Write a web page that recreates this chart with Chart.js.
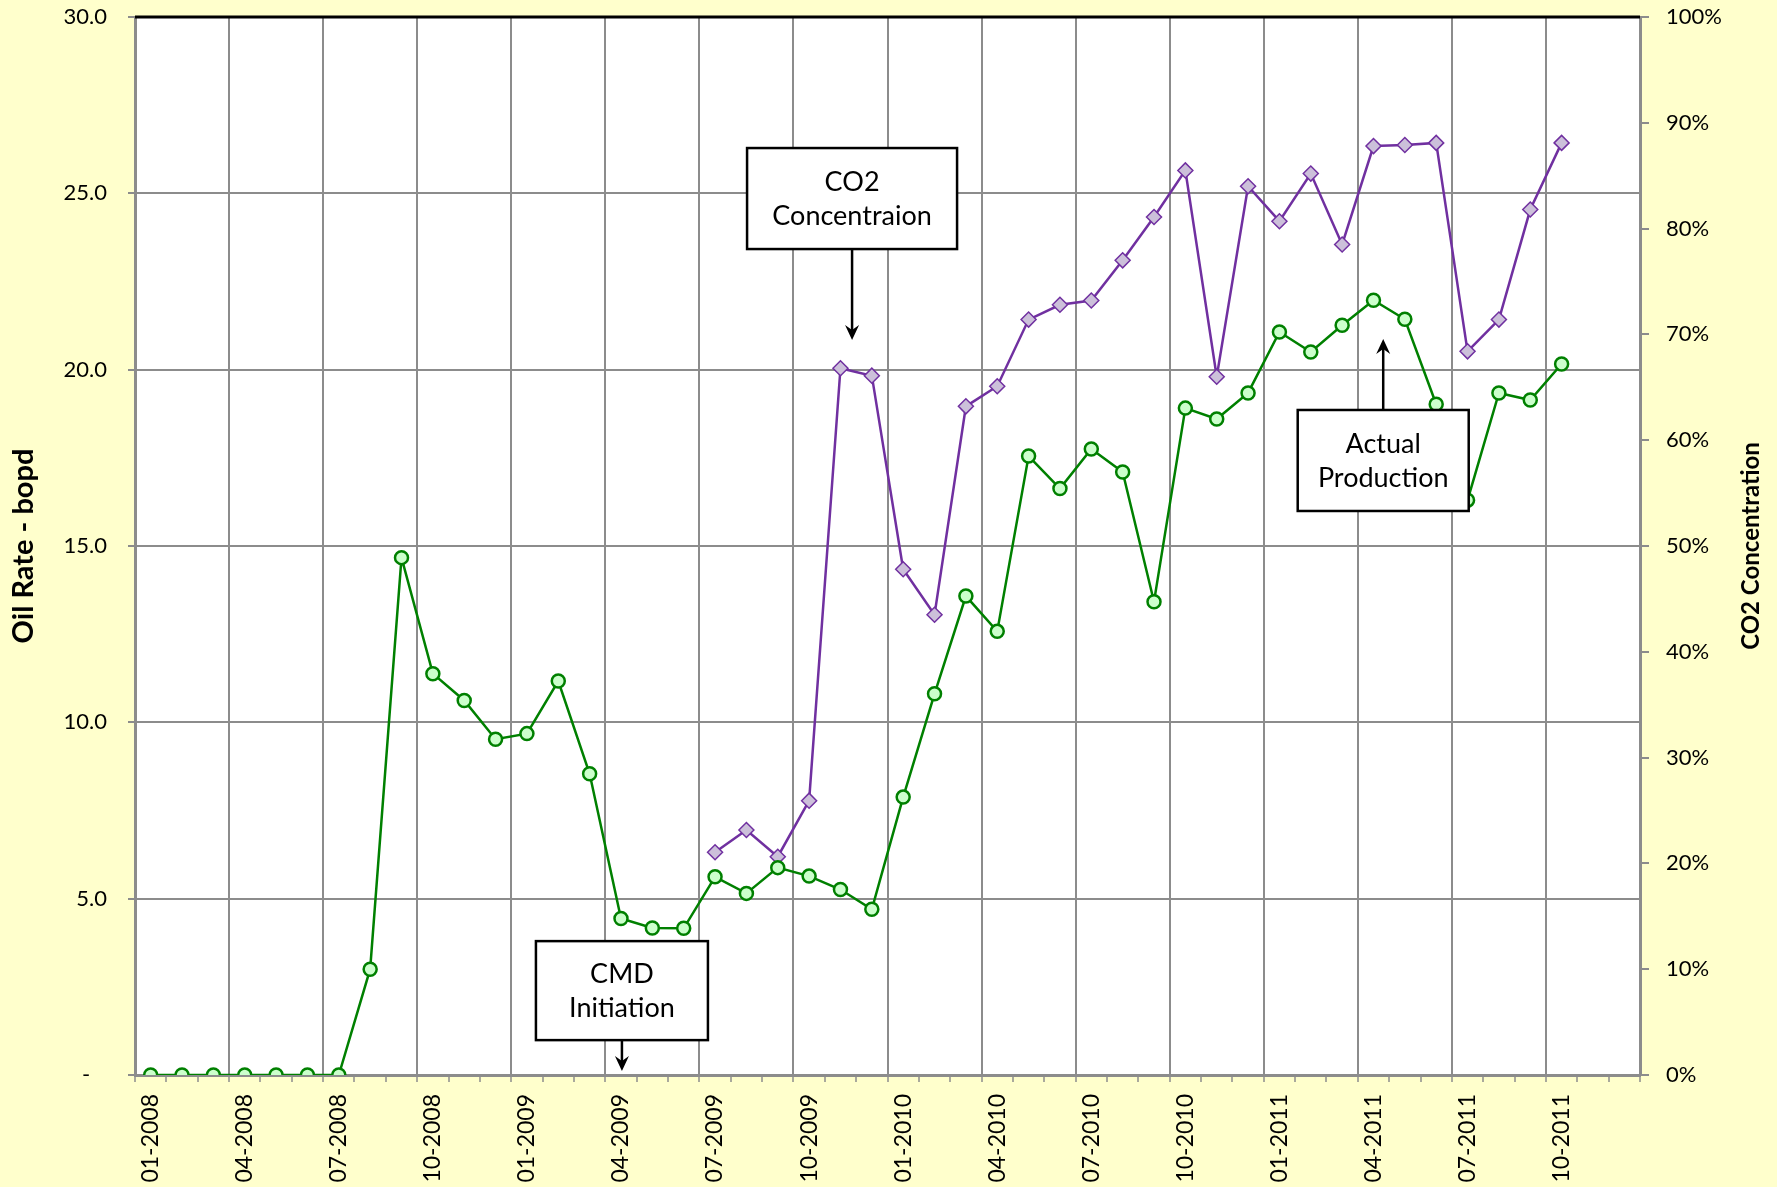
<!DOCTYPE html>
<html>
<head>
<meta charset="utf-8">
<script src="https://cdn.jsdelivr.net/npm/chart.js@4.4.1/dist/chart.umd.min.js"></script>
<style>
  html, body { margin: 0; padding: 0; background: #FFFFCC; }
  #wrap { width: 1777px; height: 1187px; position: relative; }
</style>
</head>
<body>
<div id="wrap"><canvas id="oilChart"></canvas></div>
<script>
// ---------- data ----------
const months = [
    "01-2008", "02-2008", "03-2008", "04-2008", "05-2008", "06-2008", "07-2008", "08-2008", "09-2008", "10-2008", "11-2008", "12-2008",
    "01-2009", "02-2009", "03-2009", "04-2009", "05-2009", "06-2009", "07-2009", "08-2009", "09-2009", "10-2009", "11-2009", "12-2009",
    "01-2010", "02-2010", "03-2010", "04-2010", "05-2010", "06-2010", "07-2010", "08-2010", "09-2010", "10-2010", "11-2010", "12-2010",
    "01-2011", "02-2011", "03-2011", "04-2011", "05-2011", "06-2011", "07-2011", "08-2011", "09-2011", "10-2011", "11-2011", "12-2011"
];

// oil rate, bopd (left axis)
const oilRate = [
    0, 0, 0, 0, 0, 0, 0, 3.0, 14.67, 11.38, 10.62, 9.52,
    9.68, 11.17, 8.54, 4.44, 4.17, 4.16, 5.62, 5.15, 5.88, 5.64, 5.26, 4.70,
    7.88, 10.81, 13.58, 12.58, 17.55, 16.63, 17.75, 17.1, 13.42, 18.91, 18.6, 19.34,
    21.07, 20.5, 21.26, 21.97, 21.43, 19.02, 16.3, 19.34, 19.14, 20.16, null, null
];

// CO2 concentration, % (right axis)
const co2Pct = [
    null, null, null, null, null, null, null, null, null, null, null, null,
    null, null, null, null, null, null, 21.05, 23.16, 20.63, 25.93, 66.8, 66.1,
    47.8, 43.5, 63.2, 65.1, 71.4, 72.8, 73.2, 77.0, 81.1, 85.5, 66.0, 84.0,
    80.7, 85.2, 78.5, 87.8, 87.9, 88.1, 68.4, 71.4, 81.8, 88.1, null, null
];

const oilTicks = [0, 5, 10, 15, 20, 25, 30];
const co2Ticks = [0, 10, 20, 30, 40, 50, 60, 70, 80, 90, 100];

// callouts: arrow tip at (category index, oil value)
const callouts = [
    { lines: ["CO2", "Concentraion"], idx: 22.37, val: 20.84, dir: "down", len: 91, w: 210, h: 101 },
    { lines: ["CMD", "Initiation"], idx: 15.03, val: 0.11, dir: "down", len: 31, w: 172, h: 99 },
    { lines: ["Actual", "Production"], idx: 39.31, val: 20.87, dir: "up", len: 71, w: 171, h: 101 }
];

const FONT = "Lato, 'Open Sans', sans-serif";
const GRID = "#8c8c8c";

// ---------- helpers ----------
function arrowHead(ctx, x, y, dir) {
    const s = dir === "down" ? -1 : 1;
    ctx.beginPath();
    ctx.moveTo(x, y);
    ctx.lineTo(x - 7, y + s * 15);
    ctx.lineTo(x, y + s * 10);
    ctx.lineTo(x + 7, y + s * 15);
    ctx.closePath();
    ctx.fill();
}

function noPad(s) {
    s.paddingTop = 0;
    s.paddingBottom = 0;
    s.paddingLeft = 0;
    s.paddingRight = 0;
}

const decor = {
    id: "decor",
    beforeDraw(chart) {
        const { ctx, chartArea: a } = chart;
        ctx.save();
        ctx.fillStyle = "#FFFFCC";
        ctx.fillRect(0, 0, chart.width, chart.height);
        ctx.fillStyle = "#ffffff";
        ctx.fillRect(a.left, a.top, a.right - a.left, a.bottom - a.top);
        ctx.restore();
    },
    beforeDatasetsDraw(chart) {
        const { ctx, chartArea: a } = chart;
        ctx.save();
        ctx.strokeStyle = "#000";
        ctx.lineWidth = 3;
        ctx.beginPath();
        ctx.moveTo(a.left, a.top);
        ctx.lineTo(a.right, a.top);
        ctx.stroke();
        ctx.restore();
    },
    afterDatasetsDraw(chart) {
        const { ctx } = chart;
        const xs = chart.scales.x, ys = chart.scales.y;
        ctx.save();
        callouts.forEach(c => {
            const tx = xs.getPixelForValue(c.idx);
            const ty = ys.getPixelForValue(c.val);
            const boxTop = c.dir === "down" ? ty - c.len - c.h : ty + c.len;
            const boxEdge = c.dir === "down" ? boxTop + c.h : boxTop;
            // arrow
            ctx.strokeStyle = "#000";
            ctx.fillStyle = "#000";
            ctx.lineWidth = 2.5;
            ctx.beginPath();
            ctx.moveTo(tx, boxEdge);
            ctx.lineTo(tx, c.dir === "down" ? ty - 6 : ty + 6);
            ctx.stroke();
            arrowHead(ctx, tx, ty, c.dir);
            // box
            ctx.fillStyle = "#fff";
            ctx.fillRect(tx - c.w / 2, boxTop, c.w, c.h);
            ctx.lineWidth = 2.5;
            ctx.strokeRect(tx - c.w / 2, boxTop, c.w, c.h);
            ctx.fillStyle = "#000";
            ctx.font = "27px " + FONT;
            ctx.textAlign = "center";
            ctx.textBaseline = "middle";
            ctx.fillText(c.lines[0], tx, boxTop + c.h / 2 - 16);
            ctx.fillText(c.lines[1], tx, boxTop + c.h / 2 + 18);
        });
        ctx.restore();
    },
    afterDraw(chart) {
        // right axis title, reading bottom to top
        const { ctx, chartArea: a } = chart;
        const r = chart.scales.y1;
        ctx.save();
        ctx.translate(r.right - 26, (a.top + a.bottom) / 2);
        ctx.rotate(-Math.PI / 2);
        ctx.font = "bold 24px " + FONT;
        ctx.fillStyle = "#000";
        ctx.textAlign = "center";
        ctx.textBaseline = "middle";
        ctx.fillText("CO2 Concentration", 0, 0);
        ctx.restore();
    }
};

// ---------- chart ----------
new Chart(document.getElementById("oilChart"), {
    type: "line",
    data: {
        labels: months,
        datasets: [
            {
                label: "CO2 Concentration",
                data: co2Pct,
                yAxisID: "y1",
                borderColor: "#7030A0",
                borderWidth: 2.5,
                pointStyle: "rectRot",
                pointRadius: 7.5,
                pointBorderWidth: 1.5,
                pointBackgroundColor: "#CCC0DA",
                pointBorderColor: "#7030A0",
                tension: 0,
                order: 2
            },
            {
                label: "Actual Production",
                data: oilRate,
                yAxisID: "y",
                borderColor: "#008000",
                borderWidth: 2.5,
                pointStyle: "circle",
                pointRadius: 6.5,
                pointBorderWidth: 2.5,
                pointBackgroundColor: "#CCFFCC",
                pointBorderColor: "#008000",
                tension: 0,
                order: 1
            }
        ]
    },
    options: {
        responsive: true,
        maintainAspectRatio: false,
        animation: false,
        layout: { padding: { top: 17, left: 0, right: 0, bottom: 0 } },
        plugins: { legend: { display: false }, tooltip: { enabled: false } },
        scales: {
            x: {
                type: "category",
                offset: true,
                afterFit: s => { s.height = 112; noPad(s); },
                grid: {
                    offset: true,
                    color: c => (c.index % 3 === 0 ? GRID : "rgba(0,0,0,0)"),
                    lineWidth: 2,
                    tickColor: GRID,
                    tickWidth: 1.5,
                    tickLength: 7
                },
                border: { color: GRID, width: 3 },
                ticks: {
                    autoSkip: false,
                    maxRotation: 90,
                    minRotation: 90,
                    padding: 12,
                    color: "#000",
                    font: { family: FONT, size: 23 },
                    callback: (v, i) => (i % 3 === 0 ? months[i] : "")
                }
            },
            y: {
                position: "left",
                min: 0,
                max: 30,
                afterFit: s => { s.width = 135; noPad(s); },
                afterBuildTicks: s => { s.ticks = oilTicks.map(v => ({ value: v })); },
                grid: { color: GRID, lineWidth: 2, tickLength: 7 },
                border: { color: GRID, width: 3 },
                ticks: {
                    padding: 21,
                    color: "#000",
                    font: { family: FONT, size: 22 },
                    callback: v => (v === 0 ? "-   " : v.toFixed(1))
                },
                title: {
                    display: true,
                    text: "Oil Rate - bopd",
                    color: "#000",
                    font: { family: FONT, size: 29, weight: "bold" },
                    padding: { top: 6, bottom: 0 }
                }
            },
            y1: {
                position: "right",
                min: 0,
                max: 100,
                afterFit: s => { s.width = 137; noPad(s); },
                afterBuildTicks: s => { s.ticks = co2Ticks.map(v => ({ value: v })); },
                grid: { drawOnChartArea: false, color: GRID, lineWidth: 2, tickLength: 9 },
                border: { color: GRID, width: 3 },
                ticks: {
                    padding: 17,
                    color: "#000",
                    font: { family: FONT, size: 22 },
                    callback: v => v + "%"
                }
            }
        }
    },
    plugins: [decor]
});
</script>
</body>
</html>
